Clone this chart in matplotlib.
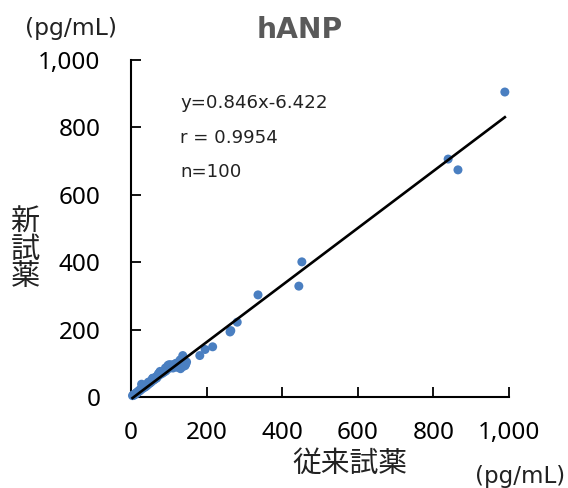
import matplotlib
matplotlib.use("Agg")
import matplotlib.pyplot as plt
import numpy as np

plt.rcParams['font.family'] = ['Noto Sans', 'Noto Sans CJK JP', 'DejaVu Sans']

# Data (conventional reagent x, new reagent y), pg/mL
x_small = [4, 6, 7, 9, 10, 11, 12, 14, 15, 16, 17, 19, 20, 21, 23, 24, 25, 27, 28, 29,
           31, 32, 33, 35, 36, 38, 39, 40, 42, 43, 45, 46, 48, 49, 51, 52, 54, 55, 57, 58,
           60, 62, 63, 65, 67, 68, 70, 72, 74, 75, 77, 79, 81, 83, 85, 87, 89, 91, 93, 95,
           97, 99, 101, 103, 105, 107, 109, 111, 113, 115, 117, 119, 121, 123, 125, 127, 129, 131, 133, 135,
           137, 139, 141, 143, 145, 147, 130]
y_small = [4, 5, 7, 6, 9, 8, 10, 12, 11, 14, 13, 16, 18, 17, 19, 22, 20, 24, 38, 25,
           27, 26, 35, 30, 29, 33, 31, 36, 34, 38, 37, 44, 40, 44, 42, 47, 45, 50, 55, 56,
           50, 56, 53, 57, 60, 56, 62, 68, 64, 72, 76, 71, 69, 74, 72, 77, 75, 86, 78, 86,
           92, 95, 85, 96, 92, 89, 95, 86, 93, 97, 90, 100, 95, 88, 102, 92, 98, 84, 103, 95,
           90, 100, 106, 93, 98, 104, 110]
x_large = [989, 839, 865, 452, 444, 336, 281, 264, 262, 216, 196, 182, 137]
y_large = [905, 706, 674, 401, 329, 303, 222, 197, 193, 149, 141, 123, 123]

slope = 0.846
intercept = -6.422
r_value = 0.9954
n_value = 100

x_ticks = [0, 200, 400, 600, 800, 1000]
y_ticks = [0, 200, 400, 600, 800, 1000]
tick_labels = ["0", "200", "400", "600", "800", "1,000"]

W, H = 568, 488
fig = plt.figure(figsize=(W / 100, H / 100), dpi=100)
ax = fig.add_axes([131 / W, 1 - 397 / H, (509 - 131) / W, (397 - 60) / H])

xs = np.array(x_small + x_large)
ys = np.array(y_small + y_large)
ax.scatter(xs, ys, s=42, color='#4a7fc1', edgecolors='none', zorder=3, clip_on=False)

lx = np.array([xs.min(), xs.max()])
ax.plot(lx, slope * lx + intercept, color='black', lw=1.9, zorder=4, clip_on=False)

ax.set_xlim(0, 1000)
ax.set_ylim(0, 1000)
ax.set_xticks(x_ticks)
ax.set_xticklabels(tick_labels)
ax.set_yticks(y_ticks)
ax.set_yticklabels(tick_labels)
for s in ['top', 'right']:
    ax.spines[s].set_visible(False)
for s in ['left', 'bottom']:
    ax.spines[s].set_linewidth(1.5)
ax.tick_params(direction='in', length=7, width=1.3, labelsize=17.5, colors='black')
ax.tick_params(axis='y', pad=22)
ax.tick_params(axis='x', pad=17)

ann_color = '#222222'
dv = ['DejaVu Sans']
renderer = fig.canvas.get_renderer()


def fit_width(t, target_px):
    w = t.get_window_extent(renderer=renderer).width
    if w > 0:
        t.set_fontsize(t.get_fontsize() * target_px / w)
    return t


t1 = fig.text(180 / W, 1 - 103 / H, f"y={slope:.3f}x-{-intercept:.3f}", family=dv,
              fontsize=13, va='center', ha='left', color=ann_color)
fit_width(t1, 147)
fs_ann = t1.get_fontsize()
fig.text(180 / W, 1 - 138 / H, f"r = {r_value:.4f}", family=dv, fontsize=fs_ann, va='center', ha='left', color=ann_color)
fig.text(180 / W, 1 - 172 / H, f"n={n_value}", family=dv, fontsize=fs_ann, va='center', ha='left', color=ann_color)

tt = fig.text(300 / W, 1 - 30 / H, "hANP", family=dv, fontsize=20.5, fontweight='bold', color='#595959', ha='center', va='center')
fit_width(tt, 86)
p1 = fig.text(71 / W, 1 - 28 / H, "(pg/mL)", family=dv, fontsize=16, ha='center', va='center', color=ann_color)
fit_width(p1, 92)
p2 = fig.text(520 / W, 1 - 477 / H, "(pg/mL)", family=dv, fontsize=16, ha='center', va='center', color=ann_color)
fit_width(p2, 90)
xl = fig.text(350 / W, 1 - 464 / H, "従来試薬", fontsize=21, ha='center', va='center', color=ann_color)
fit_width(xl, 115)
fig.text(25 / W, 1 - 250 / H, "新\n試\n薬", fontsize=21, ha='center', va='center', linespacing=0.92, color=ann_color)

fig.savefig("out.png", dpi=100)
